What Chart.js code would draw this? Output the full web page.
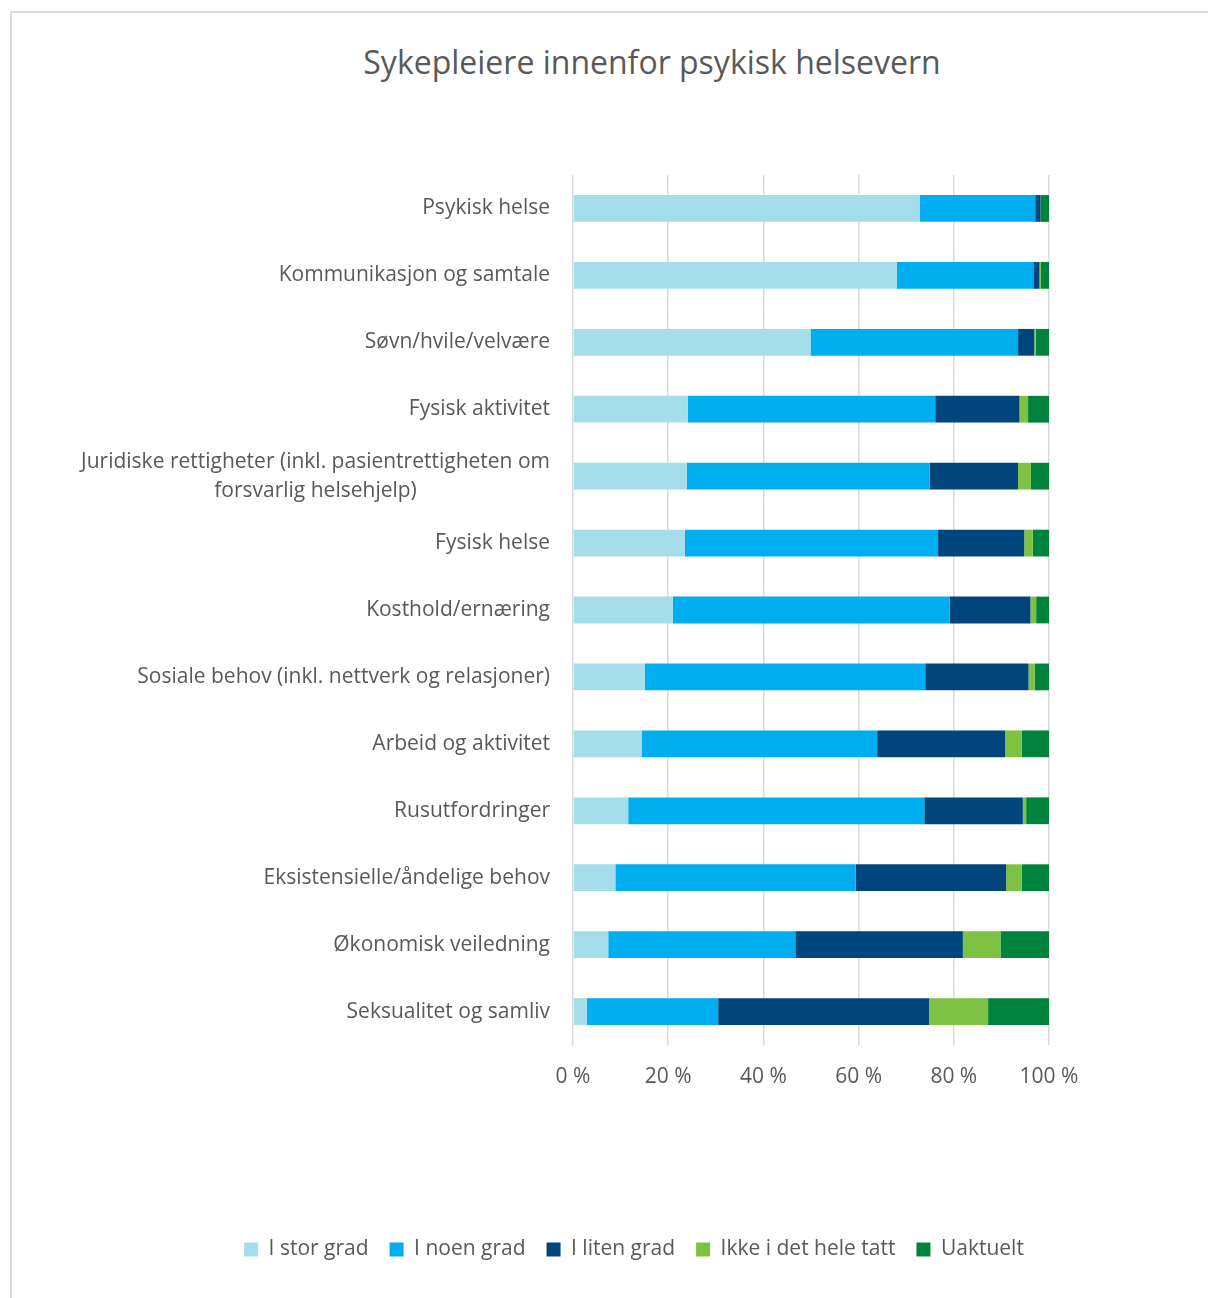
<!DOCTYPE html>
<html lang="no">
<head>
<meta charset="utf-8">
<title>Sykepleiere innenfor psykisk helsevern</title>
<script src="https://cdn.jsdelivr.net/npm/chart.js@4.4.0/dist/chart.umd.min.js"></script>
<style>
  html, body { margin: 0; padding: 0; background: #fff; overflow: hidden; }
  #ramme { position: absolute; left: 10px; top: 11px; width: 1400px; height: 1400px;
           border-left: 2px solid #d9d9d9; border-top: 2px solid #d9d9d9; }
  #tittel { position: absolute; left: 0; top: 40px; width: 1304px; text-align: center;
            font: 32px "Open Sans", sans-serif; color: #595959; }
  #graf { position: absolute; left: 0; top: 0; }
</style>
</head>
<body>
<div id="ramme"></div>
<div id="tittel">Sykepleiere innenfor psykisk helsevern</div>
<canvas id="graf" width="1208" height="1298"></canvas>
<script>
// kategorier (ovenfra og ned)
const kategorier = [
  'Psykisk helse',
  'Kommunikasjon og samtale',
  'Søvn/hvile/velvære',
  'Fysisk aktivitet',
  ['Juridiske rettigheter (inkl. pasientrettigheten om', 'forsvarlig helsehjelp)'],
  'Fysisk helse',
  'Kosthold/ernæring',
  'Sosiale behov (inkl. nettverk og relasjoner)',
  'Arbeid og aktivitet',
  'Rusutfordringer',
  'Eksistensielle/åndelige behov',
  'Økonomisk veiledning',
  'Seksualitet og samliv'
];

// andeler i prosent
const iStorGrad        = [72.9, 68.0, 49.9, 24.1, 23.9, 23.5, 21.0, 15.1, 14.4, 11.6,  8.9,  7.4,  2.9];
const iNoenGrad        = [24.2, 28.7, 43.6, 52.0, 51.0, 53.2, 58.1, 58.9, 49.5, 62.2, 50.5, 39.3, 27.6];
const iLitenGrad       = [ 1.1,  1.3,  3.4, 17.7, 18.6, 18.1, 17.0, 21.7, 26.9, 20.7, 31.6, 35.2, 44.3];
const ikkeIDetHeleTatt = [ 0.0,  0.3,  0.3,  1.8,  2.7,  1.8,  1.2,  1.3,  3.5,  0.7,  3.3,  7.9, 12.4];
const uaktuelt         = [ 1.8,  1.7,  2.8,  4.4,  3.8,  3.4,  2.7,  3.0,  5.7,  4.8,  5.7, 10.2, 12.8];

const xTicks = [0, 20, 40, 60, 80, 100];

const serier = [
  { navn: 'I stor grad',          data: iStorGrad,        farge: '#a5deea' },
  { navn: 'I noen grad',          data: iNoenGrad,        farge: '#00aeef' },
  { navn: 'I liten grad',         data: iLitenGrad,       farge: '#00457c' },
  { navn: 'Ikke i det hele tatt', data: ikkeIDetHeleTatt, farge: '#7dc242' },
  { navn: 'Uaktuelt',             data: uaktuelt,         farge: '#00843d' }
];

const TEKST = '#595959';
const FONT = '"Open Sans", sans-serif';

// kategorietiketter tegnes selv for å få midtstilt linje 2
const etiketter = {
  id: 'etiketter',
  afterDraw(chart) {
    const ctx = chart.ctx;
    const y = chart.scales.y;
    const hoyre = 550;
    ctx.save();
    ctx.font = '21px ' + FONT;
    ctx.fillStyle = TEKST;
    ctx.textBaseline = 'middle';
    kategorier.forEach((k, i) => {
      const py = y.getPixelForTick(i);
      if (Array.isArray(k)) {
        const midt = hoyre - ctx.measureText(k[0]).width / 2;
        const lh = 29;
        ctx.textAlign = 'center';
        k.forEach((linje, j) => {
          ctx.fillText(linje, midt, py + (j - (k.length - 1) / 2) * lh);
        });
      } else {
        ctx.textAlign = 'right';
        ctx.fillText(k, hoyre, py);
      }
    });
    ctx.restore();
  }
};

new Chart(document.getElementById('graf'), {
  type: 'bar',
  data: {
    labels: kategorier.map(k => Array.isArray(k) ? k.join(' ') : k),
    datasets: serier.map(s => ({
      label: s.navn,
      data: s.data,
      backgroundColor: s.farge,
      borderWidth: 0,
      barPercentage: 0.4,
      categoryPercentage: 1
    }))
  },
  options: {
    indexAxis: 'y',
    responsive: false,
    animation: false,
    layout: { padding: { left: 219, right: 159, top: 175, bottom: 28 } },
    plugins: {
      title: { display: false },
      tooltip: { enabled: false },
      legend: {
        position: 'bottom',
        labels: {
          boxWidth: 14, boxHeight: 14, padding: 21,
          color: TEKST, font: { family: FONT, size: 21 }
        }
      }
    },
    scales: {
      x: {
        stacked: true, min: 0, max: 100,
        afterBuildTicks: s => { s.ticks = xTicks.map(v => ({ value: v })); },
        afterFit: s => { s.height = 173; },
        ticks: { color: TEKST, padding: 19, font: { family: FONT, size: 21 },
                 callback: v => v + ' %' },
        grid: { color: '#d9d9d9', lineWidth: 1.5, drawTicks: false },
        border: { display: false }
      },
      y: {
        stacked: true,
        afterFit: s => { s.width = 354; },
        ticks: { display: false },
        grid: { display: false },
        border: { display: false }
      }
    }
  },
  plugins: [etiketter]
});
</script>
</body>
</html>
